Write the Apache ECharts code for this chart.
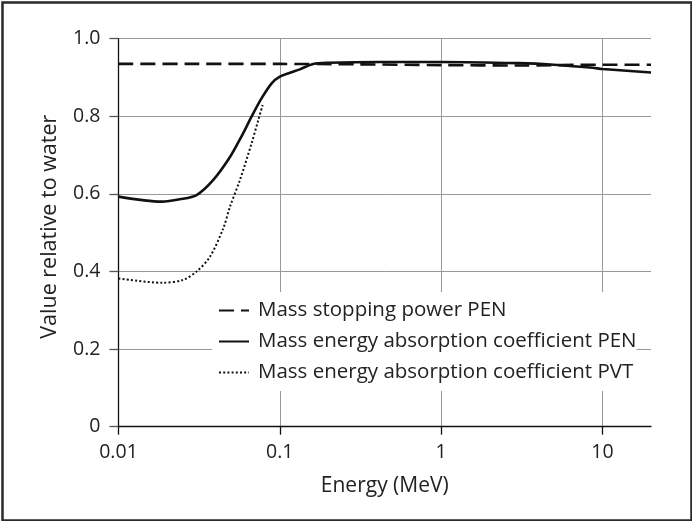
<!DOCTYPE html>
<html><head><meta charset="utf-8">
<script src="https://cdn.jsdelivr.net/npm/echarts@6/dist/echarts.min.js"></script>
<style>html,body{margin:0;padding:0;background:#fff}#c{width:692px;height:521px}</style>
</head><body><div id="c"></div>
<script>
var xTicks = [0.01, 0.1, 1, 10];
var yTickLabels = ['0', '0.2', '0.4', '0.6', '0.8', '1.0'];
var seriesNames = ['Mass stopping power PEN', 'Mass energy absorption coefficient PEN', 'Mass energy absorption coefficient PVT'];

var stopE = [0.01, 0.03, 0.1, 0.3, 1, 3, 10, 20];
var stopPEN = [0.935, 0.935, 0.935, 0.934, 0.932, 0.931, 0.933, 0.933];

var absE_PEN = [0.01, 0.0185, 0.024, 0.0305, 0.0387, 0.0491, 0.058, 0.0668, 0.077, 0.089, 0.1, 0.1155, 0.133, 0.161, 0.2, 0.417, 1, 3, 5, 8.7, 10, 20];
var absPEN = [0.593, 0.58, 0.586, 0.597, 0.636, 0.695, 0.749, 0.799, 0.846, 0.885, 0.902, 0.912, 0.921, 0.935, 0.938, 0.94, 0.94, 0.937, 0.933, 0.925, 0.922, 0.913];

var absE_PVT = [0.01, 0.0185, 0.025, 0.0305, 0.0369, 0.0446, 0.0491, 0.0566, 0.0668, 0.0735, 0.0782];
var absPVT = [0.382, 0.371, 0.378, 0.4, 0.438, 0.511, 0.567, 0.636, 0.73, 0.79, 0.829];

function pairs(xs, ys){ return xs.map(function(x,i){ return [x, ys[i]]; }); }

var font = '"Open Sans", "Noto Sans", sans-serif';
var chart = echarts.init(document.getElementById('c'), null, {renderer:'canvas'});
chart.setOption({
  animation: false,
  backgroundColor: '#fff',
  textStyle: {fontFamily: font},
  grid: {left: 118.5, right: 41, top: 38.7, bottom: 94.3, containLabel: false},
  graphic: [{type:'rect', left: 0, top: 0, shape:{x:1, y:1, width:689, height:518}, style:{fill:'none', stroke:'#2a2a2a', lineWidth:2.5}, silent:true, z:100}],
  legend: {
    orient: 'vertical', left: 212, top: 292,
    padding: [8, 0, 8, 6],
    backgroundColor: '#fff',
    itemWidth: 30, itemHeight: 14, itemGap: 10,
    itemStyle: {color: 'rgba(0,0,0,0)', borderWidth: 0, opacity: 0},
    textStyle: {fontFamily: font, fontSize: 20.5, color: '#222', lineHeight: 20, padding: [0,0,0,4]},
    data: seriesNames
  },
  xAxis: {
    type: 'log', logBase: 10, min: 0.01, max: 20,
    name: 'Energy (MeV)', nameLocation: 'middle', nameGap: 49,
    nameTextStyle: {fontFamily: font, fontSize: 21, color: '#222'},
    axisLine: {lineStyle: {color: '#111', width: 1.3}},
    axisTick: {show: true, length: 8, customValues: xTicks, lineStyle: {color: '#111', width: 1.3}},
    axisLabel: {customValues: xTicks, fontFamily: font, fontSize: 19.5, color: '#222', margin: 16,
      formatter: function(v){ return String(+v.toPrecision(3)); }},
    splitLine: {show: true, lineStyle: {color: '#999', width: 1}},
    minorTick: {show: false}
  },
  yAxis: {
    type: 'value', min: 0, max: 1, interval: 0.2,
    name: 'Value relative to water', nameLocation: 'middle', nameGap: 58,
    nameTextStyle: {fontFamily: font, fontSize: 21.5, color: '#222', padding: [0,0,0,12]},
    axisLine: {show: true, lineStyle: {color: '#111', width: 1.3}},
    axisTick: {show: true, length: 9, lineStyle: {color: '#555', width: 1.3}},
    axisLabel: {fontFamily: font, fontSize: 19.5, color: '#222', margin: 18,
      formatter: function(v){ return yTickLabels[Math.round(v/0.2)]; }},
    splitLine: {show: true, lineStyle: {color: '#999', width: 1}}
  },
  series: [
    {name: seriesNames[0], type: 'line', data: pairs(stopE, stopPEN), symbol: 'none', smooth: 0.3, z: 3,
     lineStyle: {color: '#111', width: 2.6, type: [15, 7]}, itemStyle: {color: '#111'}},
    {name: seriesNames[1], type: 'line', data: pairs(absE_PEN, absPEN), symbol: 'none', smooth: 0.3, z: 4,
     lineStyle: {color: '#111', width: 2.6, type: 'solid'}, itemStyle: {color: '#111'}},
    {name: seriesNames[2], type: 'line', data: pairs(absE_PVT, absPVT), symbol: 'none', smooth: 0.3, z: 3,
     lineStyle: {color: '#111', width: 2, type: [2, 2.2]}, itemStyle: {color: '#111'}}
  ]
});
</script></body></html>
